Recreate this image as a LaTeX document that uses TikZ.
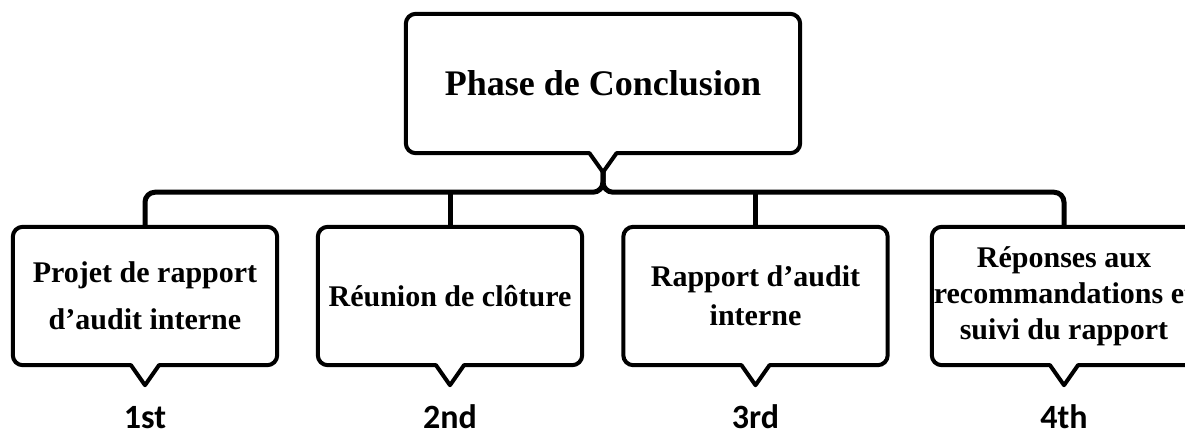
\documentclass[tikz,border=0pt]{standalone}
\usepackage{fontspec}
\setmainfont{Liberation Serif}
\newfontfamily\labelfont{Carlito}
\usetikzlibrary{calc, positioning}
\tikzset{
    bubblenode/.style = {rectangle, draw=none, align=center, inner sep=0pt,
      minimum width=264pt, minimum height=138pt, font=\fontsize{30}{39}\selectfont\bfseries},
    headnode/.style = {bubblenode, minimum width=394pt, minimum height=139pt,
      font=\fontsize{36}{44}\selectfont\bfseries},
    bubble/.style = {draw=black, line width=4pt, line join=round},
    link/.style = {draw=black, line width=5pt, rounded corners=10pt},
    ranknode/.style = {draw=none, inner sep=0pt, text height=22pt, text depth=0pt,
      font=\labelfont\fontsize{34}{40}\selectfont\bfseries}
}

\begin{document}
\begin{tikzpicture}[x=1pt, y=-1pt]
\useasboundingbox (0,0) rectangle (1185,434);

\node [headnode, name=phase] at (603,83.5) {Phase de Conclusion};

\node [bubblenode, name=step1] at (145,296) {Projet de rapport\\[8pt]d’audit interne};
\node [bubblenode, name=step2] at (450,296) {Réunion de clôture};
\node [bubblenode, name=step3] at (755.5,296) {Rapport d’audit\\interne};
\node [bubblenode, name=step4] at (1064,296) {Réponses aux\\[-3pt]recommandations et\\[-3pt]suivi du rapport};

% speech bubble outlines, the tip is kept as a coordinate
\foreach \n/\w/\d in {phase/13.5/19, step1/14/20, step2/14/20, step3/14/20, step4/14/20} {
  \draw [bubble] ($(\n.south)+(0,\d)$) coordinate (\n-tip) -- ($(\n.south)+(-\w,0)$)
    [rounded corners=10pt] -- (\n.south west) -- (\n.north west) -- (\n.north east)
    -- (\n.south east) [sharp corners] -- ($(\n.south)+(\w,0)$) -- cycle;
}

\coordinate (bar) at ($(phase-tip)+(0,20)$);
\draw [link] (phase-tip) -- (bar) -| (step1.north);
\draw [link] (phase-tip) -- (bar) -| (step4.north);
\draw [link] (step2.north) -- (step2.north |- bar);
\draw [link] (step3.north) -- (step3.north |- bar);

\node [ranknode, below=21pt of step1-tip] (rank1) {1st};
\node [ranknode, below=21pt of step2-tip] (rank2) {2nd};
\node [ranknode, below=21pt of step3-tip] (rank3) {3rd};
\node [ranknode, below=21pt of step4-tip] (rank4) {4th};
\end{tikzpicture}
\end{document}
